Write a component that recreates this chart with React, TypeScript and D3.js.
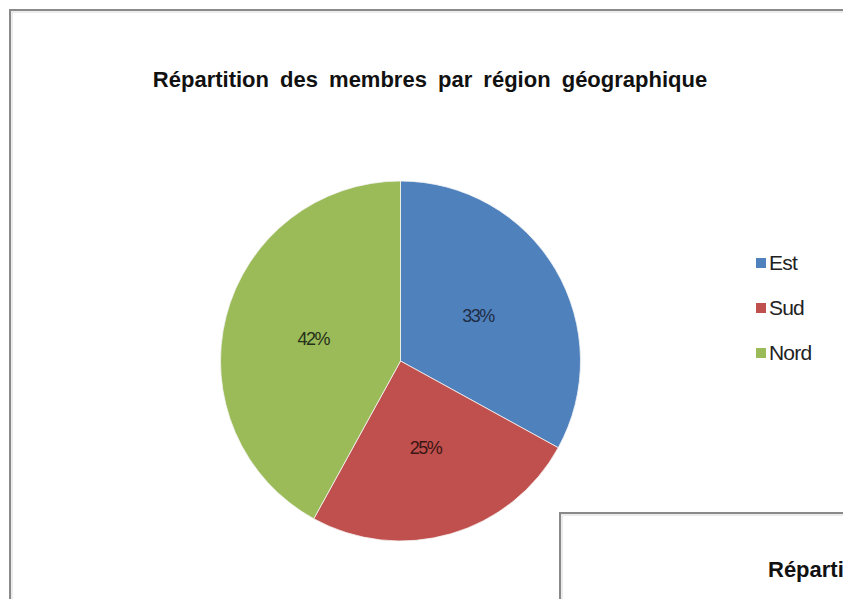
import React from "react";
import * as d3 from "d3";

const categories = ["Est", "Sud", "Nord"];
const values = [33, 25, 42];
const colors = ["#4F81BD", "#C0504D", "#9BBB59"];
const labelColors = ["#1f2d45", "#3a1514", "#25301a"];
const title = "Répartition des membres par région géographique";
const secondTitle = "Répartition";

const W = 843;
const H = 599;

export default function App() {
  const cx = 400.5;
  const cy = 361;
  const r = 180;
  const data = categories.map((c, i) => ({ name: c, value: values[i] }));
  const pie = d3.pie<any>().value((d: any) => d.value).sort(null);
  const arcs = pie(data);
  const arc = d3.arc<any>().innerRadius(0).outerRadius(r);
  const labelArc = d3.arc<any>().innerRadius(r * 0.5).outerRadius(r * 0.5);
  const color = d3.scaleOrdinal<string, string>().domain(categories).range(colors);
  const legendY = d3.scalePoint<string>().domain(categories).range([263, 353]);

  return (
    <svg
      width={W}
      height={H}
      style={{ position: "absolute", left: 0, top: 0, background: "#fff" }}
      fontFamily="'Liberation Sans', Arial, sans-serif"
    >
      <defs>
        <clipPath id="clipAll">
          <rect x={0} y={0} width={W} height={H} />
        </clipPath>
      </defs>
      <rect x={0} y={0} width={W} height={H} fill="#fff" />
      {/* main chart frame */}
      <rect x={10} y={10} width={W + 20} height={H + 20} fill="#fff" stroke="#8a8a8a" strokeWidth={2} />
      <rect x={12} y={12} width={W} height={H} fill="none" stroke="#ececec" strokeWidth={2} />
      <text
        x={430}
        y={87}
        textAnchor="middle"
        fontSize={22}
        fontWeight="bold"
        wordSpacing={5}
        fill="#111"
      >
        {title}
      </text>
      <g transform={`translate(${cx},${cy})`}>
        {arcs.map((a, i) => (
          <path key={i} d={arc(a) as string} fill={color(a.data.name)} stroke="#f4f4f4" strokeWidth={0.8} />
        ))}
        {arcs.map((a, i) => {
          const [x, y] = labelArc.centroid(a);
          return (
            <text
              key={"l" + i}
              x={x}
              y={y}
              dy="0.35em"
              textAnchor="middle"
              fontSize={18}
              letterSpacing={-1.5}
              fill={labelColors[i]}
            >
              {a.data.value}%
            </text>
          );
        })}
      </g>
      <g>
        {categories.map((c) => (
          <g key={c} transform={`translate(756,${legendY(c)})`}>
            <rect x={0} y={-5} width={10} height={10} fill={color(c)} />
            <text x={13} y={0} dy="0.35em" fontSize={21} letterSpacing={-0.8} fill="#222">
              {c}
            </text>
          </g>
        ))}
      </g>
      {/* second chart frame peeking in */}
      <g clipPath="url(#clipAll)">
        <rect x={560} y={513} width={W} height={H} fill="#fff" stroke="#8a8a8a" strokeWidth={2} />
        <rect x={562} y={515} width={W} height={H} fill="none" stroke="#ececec" strokeWidth={2} />
        <text x={768} y={577} fontSize={22} fontWeight="bold" fill="#111">
          {secondTitle}
        </text>
      </g>
    </svg>
  );
}
